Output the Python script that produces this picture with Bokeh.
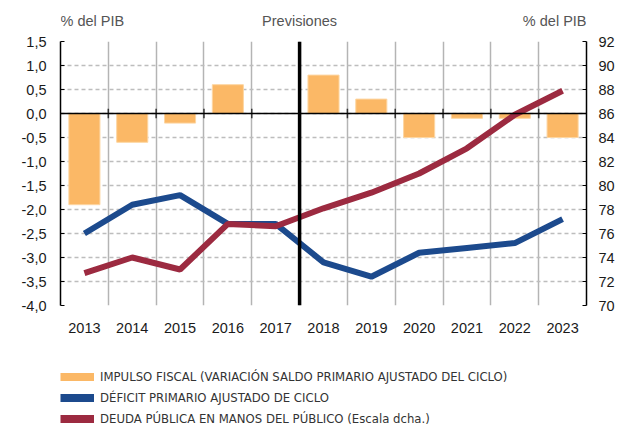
from bokeh.plotting import figure
from bokeh.layouts import column
from bokeh.models import (Range1d, LinearAxis, FixedTicker, CustomJSTickFormatter, Span,
                          Label, Legend, LegendItem, ColumnDataSource)
from bokeh.embed import file_html
from bokeh.resources import INLINE

years = [2013, 2014, 2015, 2016, 2017, 2018, 2019, 2020, 2021, 2022, 2023]
impulso = [-1.9, -0.6, -0.2, 0.6, 0.0, 0.8, 0.3, -0.5, -0.1, -0.1, -0.5]
deficit = [-2.5, -1.9, -1.7, -2.3, -2.3, -3.1, -3.4, -2.9, -2.8, -2.7, -2.2]
deuda = [72.7, 74.0, 73.0, 76.8, 76.6, 78.1, 79.4, 81.0, 83.1, 85.9, 87.9]
left_ticks = [-4.0, -3.5, -3.0, -2.5, -2.0, -1.5, -1.0, -0.5, 0.0, 0.5, 1.0, 1.5]
right_ticks = [70, 72, 74, 76, 78, 80, 82, 84, 86, 88, 90, 92]
forecast_start = 2017.5
titles = ["% del PIB", "Previsiones", "% del PIB"]
labels = ["IMPULSO FISCAL (VARIACIÓN SALDO PRIMARIO AJUSTADO DEL CICLO)",
          "DÉFICIT PRIMARIO AJUSTADO DE CICLO",
          "DEUDA PÚBLICA EN MANOS DEL PÚBLICO (Escala dcha.)"]

ORANGE = "#FBB866"
BLUE = "#1C4A8D"
RED = "#9C2A40"
FONT = "Liberation Sans"
NARROW = "'Liberation Sans Narrow', 'DejaVu Sans Condensed', 'Roboto Condensed', 'Arial Narrow', Roboto"
W = 623
LEFT, RIGHT = 60, 37

x_lo, x_hi = years[0] - 0.5, years[-1] + 0.5
boundaries = [y + 0.5 for y in years[:-1]]

def strip(height):
    f = figure(width=W, height=height, output_backend="svg", toolbar_location=None,
               x_range=Range1d(x_lo, x_hi), y_range=Range1d(0, 1),
               x_axis_type=None, y_axis_type=None,
               min_border_left=LEFT, min_border_right=RIGHT, min_border_top=0, min_border_bottom=0)
    f.outline_line_color = None
    f.grid.visible = False
    return f

# ---------------- top strip with titles ----------------
top = strip(33)
for x, txt, align in zip([x_lo, forecast_start, x_hi], titles, ["left", "center", "right"]):
    top.add_layout(Label(x=x, y=13, y_units="screen", text=txt, text_align=align,
                         text_baseline="middle", text_font=FONT, text_font_size="14.5px",
                         text_color="#555555"))

# ---------------- main chart ----------------
p = figure(width=W, height=308, output_backend="svg", toolbar_location=None,
           x_range=Range1d(x_lo, x_hi),
           y_range=Range1d(left_ticks[0], left_ticks[-1]),
           min_border_left=LEFT, min_border_right=RIGHT, min_border_top=8, min_border_bottom=36)
p.outline_line_color = None
p.extra_y_ranges = {"deuda": Range1d(right_ticks[0], right_ticks[-1])}

p.ygrid.ticker = FixedTicker(ticks=left_ticks)
p.ygrid.grid_line_color = "#bdbdbd"
p.ygrid.grid_line_dash = "4 3"
p.ygrid.grid_line_width = 1.5
p.xgrid.ticker = FixedTicker(ticks=boundaries)
p.xgrid.grid_line_color = "#b4b4b4"
p.xgrid.grid_line_width = 1.5

ya = p.yaxis[0]
ya.ticker = FixedTicker(ticks=left_ticks)
ya.formatter = CustomJSTickFormatter(code="return tick.toFixed(1).replace('.', ',');")
ra = LinearAxis(y_range_name="deuda", ticker=FixedTicker(ticks=right_ticks))
p.add_layout(ra, "right")
for ax, standoff in ((ya, 14), (ra, 12)):
    ax.axis_line_color = "black"
    ax.axis_line_width = 1.5
    ax.major_tick_in = 4
    ax.major_tick_out = 0
    ax.major_tick_line_color = "black"
    ax.minor_tick_line_color = None
    ax.major_label_text_font = FONT
    ax.major_label_text_font_size = "14.5px"
    ax.major_label_text_color = "#1a1a1a"
    ax.major_label_standoff = standoff

xa = p.xaxis[0]
xa.ticker = FixedTicker(ticks=years)
xa.axis_line_color = None
xa.major_tick_line_color = None
xa.minor_tick_line_color = None
xa.major_label_text_font = FONT
xa.major_label_text_font_size = "14.5px"
xa.major_label_text_color = "#1a1a1a"
xa.major_label_standoff = 11

p.vbar(x=years, top=impulso, bottom=0, width=0.65, fill_color=ORANGE,
       line_color="#FDD6A2", line_width=1)

p.add_layout(Span(location=0, dimension="width", line_color="black", line_width=1.5))
p.segment(x0=boundaries, x1=boundaries, y0=[-0.1] * len(boundaries), y1=[0.1] * len(boundaries),
          line_color="#333333", line_width=1.5)
p.add_layout(Span(location=forecast_start, dimension="height", line_color="black", line_width=3.5))

p.line(years, deficit, line_color=BLUE, line_width=6)
p.line(years, deuda, line_color=RED, line_width=6, y_range_name="deuda")

# ---------------- legend strip ----------------
leg = strip(84)
# one-point lines draw nothing themselves; they only provide legend swatches
swatch_src = ColumnDataSource(data=dict(x=[x_lo], y=[0]))
dummies = [leg.line("x", "y", source=swatch_src, line_color=c, line_width=8)
           for c in (ORANGE, BLUE, RED)]
legend = Legend(items=[LegendItem(label=l, renderers=[r]) for l, r in zip(labels, dummies)],
                location=(0, -3), orientation="vertical",
                glyph_width=34, glyph_height=19, label_height=19, spacing=2,
                label_standoff=6, padding=0, margin=0,
                border_line_color=None, background_fill_alpha=0,
                label_text_font=NARROW, label_text_font_size="13px",
                label_text_color="#333333")
leg.add_layout(legend, "center")

layout = column(top, p, leg, spacing=0)
open("out.html", "w").write(file_html(layout, INLINE))
